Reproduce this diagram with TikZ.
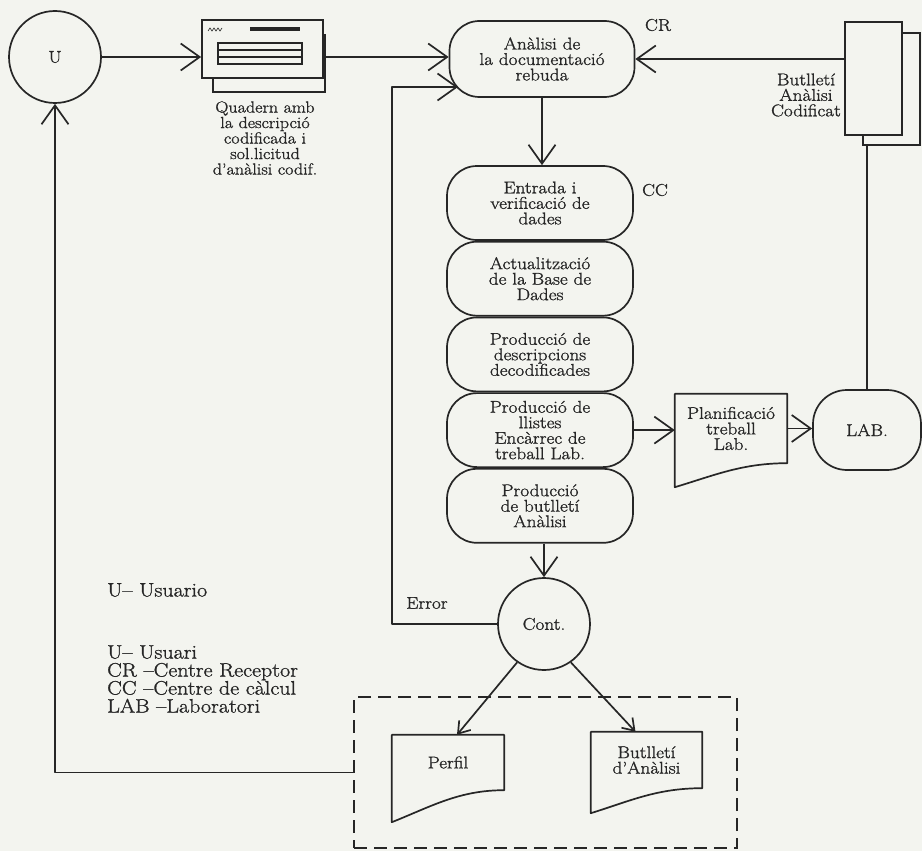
\documentclass[tikz,border=0pt]{standalone}
\usepackage{fontspec}
\setmainfont{Latin Modern Roman}[FakeStretch=1.13, FakeBold=1.2]
\usepackage{tikz}
\usetikzlibrary{arrows.meta,positioning,calc}
\definecolor{paperTone}{RGB}{243,244,239}
\definecolor{inkDark}{RGB}{38,38,38}
\tikzset{
  procBox/.style={draw=inkDark, fill=paperTone, line width=1.7pt, rectangle, rounded corners=30pt,
    minimum width=186pt, minimum height=74pt, inner sep=2pt, align=center, text=inkDark,
    font=\fontsize{17pt}{15.5pt}\selectfont},
  roundNode/.style={draw=inkDark, circle, line width=1.7pt, minimum size=92pt, inner sep=0pt,
    text=inkDark, font=\fontsize{17pt}{15.5pt}\selectfont},
  sheetBox/.style={draw=inkDark, fill=paperTone, line width=1.7pt, rectangle, inner sep=0pt},
  tornDoc/.style={rectangle, inner sep=0pt, align=center, text=inkDark,
    font=\fontsize{17pt}{15.5pt}\selectfont},
  plainLabel/.style={inner sep=0pt, align=center, text=inkDark,
    font=\fontsize{17pt}{15.5pt}\selectfont},
  boxEdge/.style={draw=inkDark, line width=1.7pt, line join=round},
  flowArrow/.style={boxEdge, -{Straight Barb[length=19pt,width=27pt]}},
  smallArrow/.style={boxEdge, -{Straight Barb[length=11pt,width=15pt]}}
}
\newcommand{\tornOutline}[2]{%
  \draw[boxEdge] ($(#1.south west)+(0,#2)$) -- (#1.north west) -- (#1.north east) -- (#1.south east)
    .. controls +(-45,0) and +(40,-#2/2) .. ($(#1.south west)+(0,#2)$) -- cycle;}

\begin{document}
\begin{tikzpicture}[x=1pt, y=-1pt]
\fill[paperTone] (0,0) rectangle (922,851);
\useasboundingbox (0,0) rectangle (922,851);

\node[roundNode] (usr) at (55,57) {U};

\node[sheetBox, minimum width=112pt, minimum height=57pt] (quadb) at (269,63.5) {};
\node[sheetBox, minimum width=121pt, minimum height=58pt] (quad) at (262.5,49) {};
\draw[inkDark, line width=0.6pt] (208,31) -- (210,28) -- (212,31) -- (214,28) -- (216,31) -- (218,28) -- (220,31) -- (222,28);
\fill[inkDark] (250,27) rectangle (300,31);
\draw[inkDark, line width=1.2pt] (218,43) rectangle (302,64) (218,50) -- (302,50) (218,57) -- (302,57);
\node[plainLabel, font=\fontsize{16pt}{15.5pt}\selectfont] (quadtxt) at (265,138)
  {Quadern amb\\la descripció\\codificada i\\sol.licitud\\d’anàlisi codif.};

\node[procBox, minimum width=185pt, minimum height=76pt] (anal) at (542,59) {Anàlisi de\\la documentació\\rebuda};
\node[plainLabel] (crtag) at (658,25) {CR};

\node[sheetBox, minimum width=57pt, minimum height=112pt] (butcb) at (891.5,89) {};
\node[sheetBox, minimum width=57pt, minimum height=113pt] (butc) at (873.5,78.5) {};
\node[plainLabel] (butctxt) at (806,95) {Butlletí\\Anàlisi\\Codificat};

\node[procBox] (entr) at (540,203) {Entrada i\\verificació de\\dades};
\node[procBox, below=0pt of entr] (actu) {Actualització\\de la Base de\\Dades};
\node[procBox, below=0pt of actu] (desc) {Producció de\\descripcions\\decodificades};
\node[procBox, below=0pt of desc] (llis) {Producció de\\llistes\\Encàrrec de\\treball Lab.};
\node[procBox, below=0pt of llis] (butl) {Producció\\de butlletí\\Anàlisi};
\node[plainLabel] (cctag) at (655,190) {CC};

\node[tornDoc, minimum width=112pt, minimum height=69pt] (plan) at (731,428.5) {Planificació\\treball\\Lab.};
\tornOutline{plan}{24}
\node[procBox, minimum width=108pt, minimum height=80pt, rounded corners=34pt] (lab) at (867,430) {LAB.};

\node[roundNode] (cont) at (544,624) {Cont.};
\node[plainLabel] (errtag) at (427,603) {Error};
\coordinate (errturn) at (392,87);
\coordinate (errin) at (458,87);

\node[draw=inkDark, line width=1.7pt, dash pattern=on 13pt off 7pt, minimum width=383pt,
  minimum height=151pt, inner sep=0pt] (outbox) at (545.5,772.5) {};
\node[tornDoc, minimum width=112pt, minimum height=55pt] (perf) at (448,762.5) {Perfil};
\tornOutline{perf}{32}
\node[tornDoc, minimum width=111pt, minimum height=56pt] (bdoc) at (646.5,760) {Butlletí\\d’Anàlisi};
\tornOutline{bdoc}{25}

\node[plainLabel, anchor=west, font=\fontsize{19.5pt}{18pt}\selectfont] (legtop) at (107,590) {U– Usuario};
\node[plainLabel, anchor=west, align=left, font=\fontsize{19.5pt}{18pt}\selectfont] (legkey) at (107,679)
  {U– Usuari\\CR –Centre Receptor\\CC –Centre de càlcul\\LAB –Laboratori};

\draw[flowArrow] (usr.east) -- (quad.west |- usr.east);
\draw[flowArrow] (quad.east |- usr.east) -- (anal.west |- usr.east);
\draw[flowArrow] (butc.west |- anal.east) -- (anal.east);
\draw[flowArrow] (anal.south) -- (anal.south |- entr.north);
\draw[flowArrow] (llis.east) -- (plan.west |- llis.east);
\draw[flowArrow] (plan.east) -- (lab.west |- plan.east);
\draw[boxEdge] (lab.north) -- (lab.north |- butcb.south);
\draw[flowArrow] (cont.north |- butl.south) -- (cont.north);
\draw[flowArrow] (cont.west) -| (errturn) -- (errin);
\draw[smallArrow] (cont.235) -- ($(perf.north)+(9,0)$);
\draw[smallArrow] (cont.305) -- ($(bdoc.north)+(-11,0)$);
\draw[flowArrow] (outbox.west) -| (usr.south);
\end{tikzpicture}
\end{document}
